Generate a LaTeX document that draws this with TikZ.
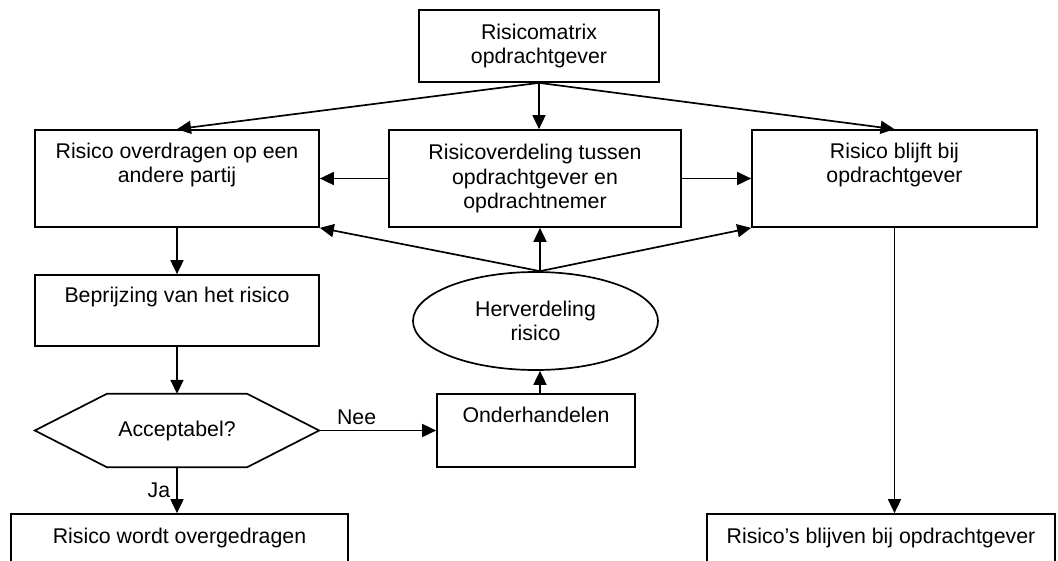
\documentclass[tikz,border=0pt]{standalone}
\usepackage{fontspec}
\setmainfont{Liberation Sans}
\usetikzlibrary{arrows.meta,shapes.geometric}

\tikzset{
    every node/.style = {font = \fontsize{21.3}{24.5}\selectfont, align = center, inner sep = 0pt},
    box/.style = {draw, line width = 1.7pt, rectangle},
    conn/.style = {line width = 1.7pt, -{Triangle[length = 14pt, width = 13pt]}}
}

\begin{document}
\begin{tikzpicture}[x = 1pt, y = -1pt]
        \clip (0,0) rectangle (1058,560);

        \node [box, minimum width = 240pt, minimum height = 72pt] (matrix) at (539,46)
            {Risicomatrix\\opdrachtgever};
        \node [box, minimum width = 284pt, minimum height = 97pt] (overdragen) at (177,178.5)
            {Risico overdragen op een\\andere partij\\\strut};
        \node [box, minimum width = 292pt, minimum height = 97pt] (verdeling) at (535,178.5)
            {Risicoverdeling tussen\\opdrachtgever en\\opdrachtnemer};
        \node [box, minimum width = 285pt, minimum height = 97pt] (blijft) at (894.5,178.5)
            {Risico blijft bij\\opdrachtgever\\\strut};
        \node [box, minimum width = 284pt, minimum height = 71pt] (beprijzing) at (177,310.5)
            {Beprijzing van het risico\\\strut};
        \node [draw, line width = 1.7pt, ellipse, minimum width = 245pt, minimum height = 98pt] (herverdeling) at (535.5,321)
            {Herverdeling\\risico};
        \node [minimum width = 284pt, minimum height = 73pt] (acceptabel) at (177,430.5)
            {Acceptabel?};
        \node [box, minimum width = 198pt, minimum height = 73pt] (onderhandelen) at (536,430.5)
            {Onderhandelen\\\strut};
        \node [box, minimum width = 337pt, minimum height = 48pt] (overgedragen) at (179.5,538)
            {Risico wordt overgedragen};
        \node [box, minimum width = 348pt, minimum height = 48pt] (blijven) at (881,538)
            {Risico’s blijven bij opdrachtgever};

        \draw [line width = 1.7pt] (acceptabel.west) -- ([xshift = 72pt]acceptabel.north west)
            -- ([xshift = -72pt]acceptabel.north east) -- (acceptabel.east)
            -- ([xshift = -72pt]acceptabel.south east) -- ([xshift = 72pt]acceptabel.south west) -- cycle;

        \coordinate (htop) at ([xshift = 4.5pt]herverdeling.north);
        \coordinate (hbottom) at ([xshift = 4.5pt]herverdeling.south);

        \draw [conn] (matrix.south) -- (overdragen.north);
        \draw [conn] (matrix.south) -- (matrix.south |- verdeling.north);
        \draw [conn] (matrix.south) -- (blijft.north);
        \draw [conn] (verdeling.west) -- (overdragen.east);
        \draw [conn] (verdeling.east) -- (blijft.west);
        \draw [conn] (htop) -- (htop |- verdeling.south);
        \draw [conn] (htop) -- (overdragen.south east);
        \draw [conn] (htop) -- (blijft.south west);
        \draw [conn] (overdragen.south) -- (beprijzing.north);
        \draw [conn] (beprijzing.south) -- (acceptabel.north);
        \draw [conn] (acceptabel.east) -- (onderhandelen.west)
            node [pos = 0.32, above = 5pt] {Nee};
        \draw [conn] (onderhandelen.north -| hbottom) -- (hbottom);
        \draw [conn] (acceptabel.south) -- (acceptabel.south |- overgedragen.north)
            node [midway, left = 6pt] {Ja};
        \draw [conn] (blijft.south) -- (blijft.south |- blijven.north);
    \end{tikzpicture}
\end{document}
